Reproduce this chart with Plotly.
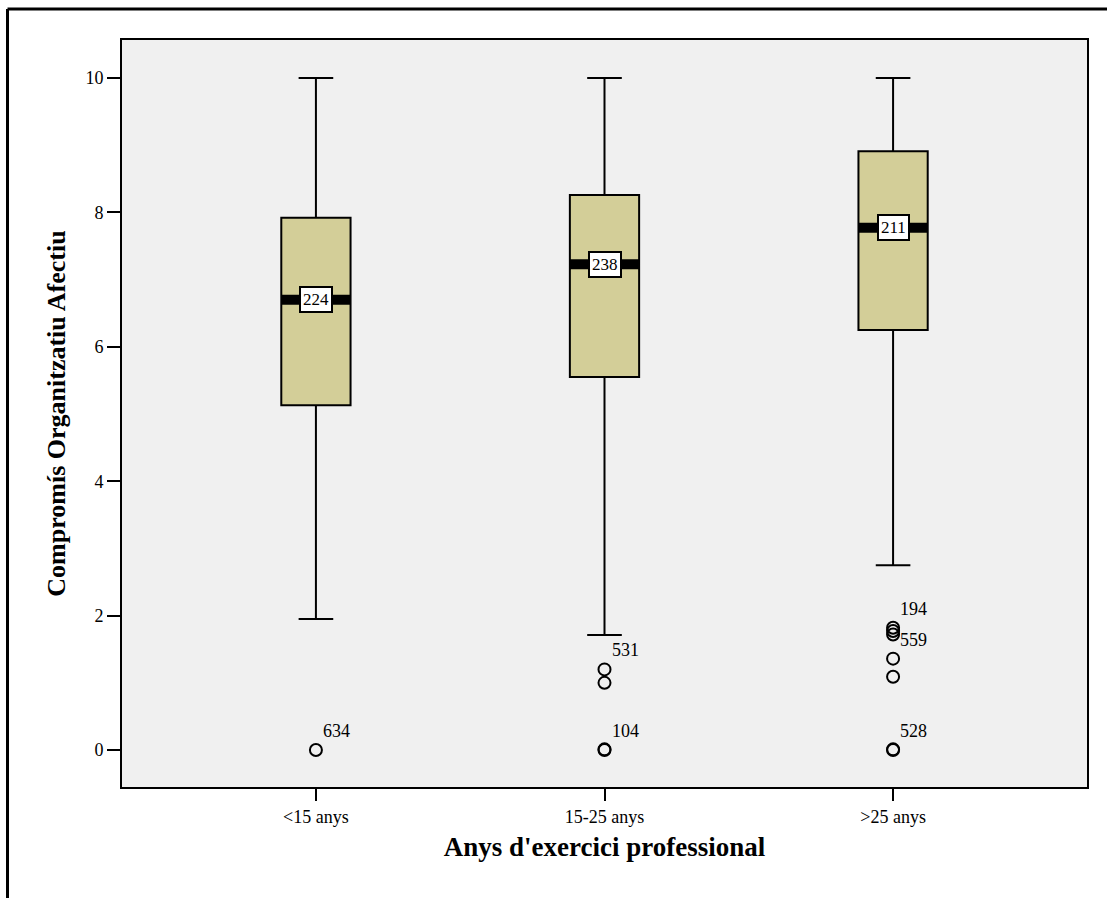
import plotly.graph_objects as go

categories = ["<15 anys", "15-25 anys", ">25 anys"]
q1 = [5.13, 5.55, 6.25]
median = [6.70, 7.23, 7.77]
q3 = [7.92, 8.26, 8.91]
lower_whisker = [1.95, 1.71, 2.75]
upper_whisker = [10.0, 10.0, 10.0]
median_labels = ["224", "238", "211"]

outlier_cat = [0, 1, 1, 1, 1, 2, 2, 2, 2, 2, 2, 2]
outlier_val = [0.0, 1.20, 1.00, 0.0, 0.01, 1.82, 1.77, 1.72, 1.36, 1.09, 0.0, 0.01]

label_cat = [0, 1, 1, 2, 2, 2]
label_val = [0.0, 1.20, 0.0, 1.82, 1.36, 0.0]
label_text = ["634", "531", "104", "194", "559", "528"]

yticks = [0, 2, 4, 6, 8, 10]

FONT = "Liberation Serif, Times New Roman, serif"
BOXW = 0.24

xpos = list(range(len(categories)))

fig = go.Figure()
fig.add_trace(go.Box(
    x=xpos, q1=q1, median=median, q3=q3,
    lowerfence=lower_whisker, upperfence=upper_whisker,
    width=BOXW, whiskerwidth=0.5,
    fillcolor="#d3ce98", line=dict(color="black", width=2),
    boxpoints=False, showlegend=False, hoverinfo="skip",
))

# thick median bars
for i in xpos:
    fig.add_trace(go.Scatter(
        x=[i - BOXW / 2, i + BOXW / 2], y=[median[i], median[i]],
        mode="lines", line=dict(color="black", width=10),
        showlegend=False, hoverinfo="skip",
    ))

# outliers
fig.add_trace(go.Scatter(
    x=outlier_cat, y=outlier_val, mode="markers",
    marker=dict(symbol="circle-open", size=12, color="black",
                line=dict(width=2, color="black")),
    showlegend=False, hoverinfo="skip",
))

annotations = []
for i in xpos:
    annotations.append(dict(
        x=i, y=median[i], xref="x", yref="y", text=median_labels[i],
        showarrow=False, bgcolor="white", bordercolor="black", borderwidth=2,
        borderpad=2, font=dict(family=FONT, size=17, color="black"),
    ))
for c, v, t in zip(label_cat, label_val, label_text):
    annotations.append(dict(
        x=c, y=v, xref="x", yref="y", text=t, showarrow=False,
        xanchor="left", yanchor="middle", xshift=5, yshift=19,
        font=dict(family=FONT, size=18, color="black"),
    ))

W, H = 1107, 898
L, R, T, B = 122, 20, 40, 111
pw, ph = W - L - R, H - T - B

def px_to_paper_x(px):
    return (px - L) / pw

def px_to_paper_y(py):
    return (H - B - py) / ph

shapes = [
    dict(type="line", xref="paper", yref="paper",
         x0=px_to_paper_x(7.5), x1=px_to_paper_x(1107), y0=px_to_paper_y(9), y1=px_to_paper_y(9),
         line=dict(color="black", width=3)),
    dict(type="line", xref="paper", yref="paper",
         x0=px_to_paper_x(7.5), x1=px_to_paper_x(7.5), y0=px_to_paper_y(9), y1=px_to_paper_y(898),
         line=dict(color="black", width=3)),
]

fig.update_layout(
    width=W, height=H,
    margin=dict(l=L, r=R, t=T, b=B),
    paper_bgcolor="white", plot_bgcolor="#f0f0f0",
    font=dict(family=FONT, size=18, color="black"),
    annotations=annotations, shapes=shapes,
    xaxis=dict(
        range=[-0.672, 2.672], tickvals=xpos, ticktext=categories,
        ticks="outside", ticklen=12, tickwidth=2, tickcolor="black",
        showline=True, linecolor="black", linewidth=2, mirror=True,
        showgrid=False, zeroline=False,
        tickfont=dict(family=FONT, size=18),
        title=dict(text="<b>Anys d'exercici professional</b>", standoff=12,
                   font=dict(family=FONT, size=27)),
    ),
    yaxis=dict(
        range=[-0.55, 10.565], tickvals=yticks,
        ticks="outside", ticklen=13, tickwidth=2, tickcolor="black",
        showline=True, linecolor="black", linewidth=2, mirror=True,
        showgrid=False, zeroline=False,
        tickfont=dict(family=FONT, size=18),
        title=dict(text="<b>Compromís Organitzatiu Afectiu</b>", standoff=12,
                   font=dict(family=FONT, size=26)),
    ),
)

fig.write_html("out.html")
